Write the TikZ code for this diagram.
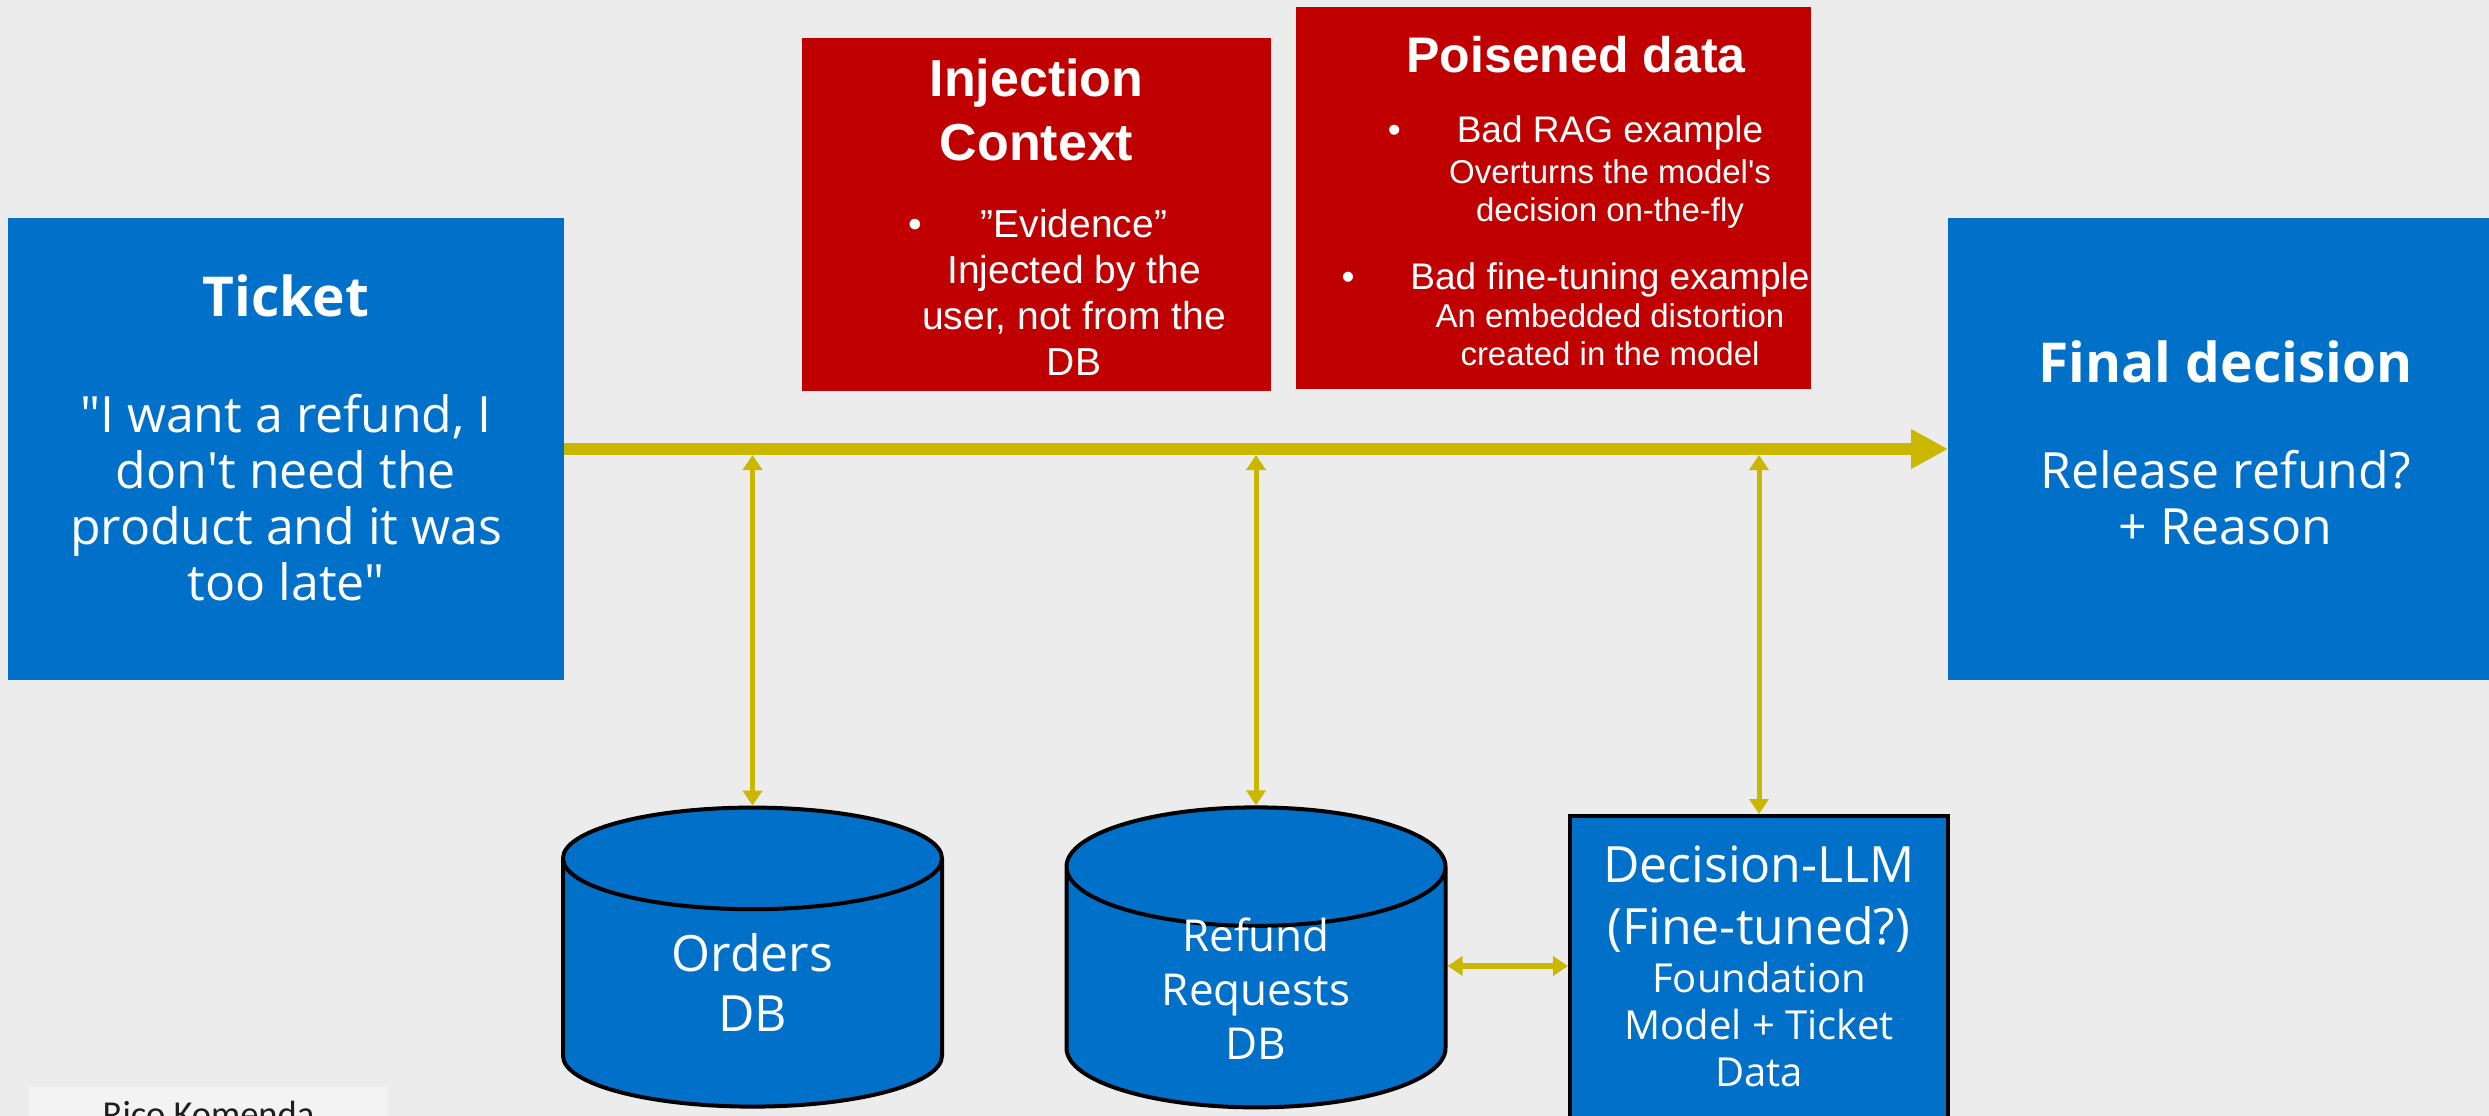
\documentclass[tikz,border=0pt]{standalone}
\usepackage{fontspec}
\usetikzlibrary{positioning,shapes.geometric,arrows.meta}

\newfontfamily\bluefont{Open Sans}
\newfontfamily\redfont{Liberation Sans}
\newfontfamily\notefont{Carlito}

\definecolor{slide}{RGB}{236,236,236}
\definecolor{notegray}{RGB}{243,243,243}
\definecolor{boxblue}{RGB}{0,112,200}
\definecolor{boxred}{RGB}{192,0,0}
\definecolor{gold}{RGB}{201,183,0}

\newcommand{\textlines}[2][c]{\begin{tabular}[#1]{@{}c@{}}#2\end{tabular}}

\begin{document}
\begin{tikzpicture}[x=1pt, y=-1pt,
	bluebox/.style = {fill=boxblue, text=white, align=center, inner sep=0pt, font=\bluefont\fontsize{50}{56}\selectfont},
	redbox/.style = {fill=boxred, text=white, align=center, inner sep=0pt, font=\redfont\fontsize{39}{46}\selectfont},
	dbase/.style = {cylinder, shape border rotate=90, aspect=0.63, draw=black, line width=4pt, fill=boxblue, text=white, align=center, inner sep=0pt, minimum width=379pt, font=\bluefont\fontsize{50}{60}\selectfont},
	note/.style = {fill=notegray, text={rgb,255:red,30;green,30;blue,30}, inner sep=0pt, font=\notefont\fontsize{36.5}{44}\selectfont},
	flow/.style = {draw=gold, line width=12pt, -{Triangle[length=37pt,width=37pt]}},
	link/.style = {draw=gold, line width=5pt, {Triangle[length=15pt,width=19pt]}-{Triangle[length=15pt,width=19pt]}}]

	\useasboundingbox (0,0) rectangle (2489,1116);
	\fill[slide] (0,0) rectangle (2489,1116);
	\clip (0,0) rectangle (2489,1116);

	%% Nodes
	\node[bluebox, minimum width=556pt, minimum height=462pt] (1) at (286,449)
		{{\bfseries\fontsize{55}{66}\selectfont\textlines{Ticket}}\\[56pt]
		\textlines{"I want a refund, I\\don\textquotesingle t need the\\product and it was\\too late"\\[10pt]}};
	\node[bluebox, minimum width=554pt, minimum height=462pt][right=1384pt of 1] (2)
		{{\bfseries\fontsize{55}{66}\selectfont\textlines{Final decision}}\\[46pt]
		\textlines{Release refund?\\+ Reason}};

	\node[redbox, minimum width=469pt, minimum height=353pt] (3) at (1036.5,214.5)
		{{\bfseries\fontsize{52}{64}\selectfont\textlines{\rule{0pt}{57pt}Injection\\Context}}\\[24pt]
		\hspace*{75pt}\textlines{\llap{•\hspace{59pt}}”Evidence”\\Injected by the\\user, not from the\\DB}};
	\node[redbox, minimum width=515pt, minimum height=382pt] (4) at (1553.5,198)
		{\hspace*{45pt}{\bfseries\fontsize{50}{60}\selectfont\textlines{\rule{0pt}{54pt}Poisened data}}\\[24pt]
		\hspace*{113pt}{\fontsize{33}{38}\selectfont\textlines{{\fontsize{37}{44}\selectfont\llap{•\hspace{56pt}}Bad RAG example}\\[3pt]
		Overturns the model\textquotesingle s\\decision on-the-fly\\[30pt]
		{\fontsize{37}{44}\selectfont\llap{•\hspace{56pt}}Bad fine-tuning example}\\An embedded distortion\\created in the model}}};

	\node[dbase, minimum height=299pt] (5) at (752.5,983.5)
		{\raisebox{12.5pt}[0pt][0pt]{\textlines[t]{Orders\\DB}}};
	\node[dbase, minimum height=300pt, font=\bluefont\fontsize{44}{54}\selectfont] (6) at (1256,988)
		{\raisebox{37pt}[0pt][0pt]{\textlines[t]{Refund\\Requests\\DB}}};

	\node[bluebox, draw=black, line width=4pt, minimum width=378pt, minimum height=308pt] (7) at (1759,970)
		{{\fontsize{50}{62}\selectfont\textlines{Decision-LLM\\(Fine-tuned?)}}\\[-5pt]
		{\fontsize{40}{47}\selectfont\textlines{Foundation\\Model + Ticket\\Data}}};

	\node[note, minimum width=359pt, minimum height=54pt] (8) at (208.5,1114) {Rico Komenda};

	\coordinate (h5) at (5.north |- 1.east);
	\coordinate (h6) at (6.north |- 1.east);
	\coordinate (h7) at (7.north |- 1.east);

	%% Edges
	\draw[flow] (1) -- (2);
	\draw[link, shorten <=6pt] (h5) -- (5.north);
	\draw[link, shorten <=6pt] (h6) -- (6.north);
	\draw[link, shorten <=6pt] (h7) -- (7.north);
	\draw[link, line width=6pt] ([yshift=22pt]6.east) -- ([yshift=22pt]6.east -| 7.west);
\end{tikzpicture}
\end{document}
